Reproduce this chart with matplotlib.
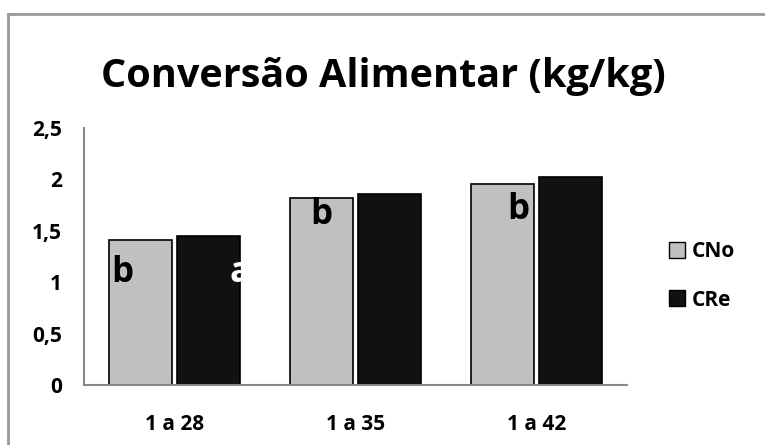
import numpy as np
import matplotlib.pyplot as plt
from matplotlib.lines import Line2D
from matplotlib.patches import Patch

categories = ["1 a 28", "1 a 35", "1 a 42"]
cno = [1.41, 1.82, 1.96]
cre = [1.45, 1.86, 2.02]
cno_letters = ["b", "b", "b"]
cre_letters = ["a", "", ""]
yticks = [0, 0.5, 1, 1.5, 2, 2.5]
ytick_labels = ["0", "0,5", "1", "1,5", "2", "2,5"]

plt.rcParams["font.family"] = ["Open Sans", "DejaVu Sans"]
plt.rcParams["font.weight"] = "bold"

W, H = 765, 445
fig = plt.figure(figsize=(W / 100, H / 100), dpi=100, facecolor="white")

# outer frame (only left and top visible in the source)
fig.add_artist(Line2D([8 / W, 8 / W], [0, 1 - 14 / H], transform=fig.transFigure,
                      color="#999999", lw=2))
fig.add_artist(Line2D([8 / W, 1], [1 - 14 / H, 1 - 14 / H], transform=fig.transFigure,
                      color="#999999", lw=2))

ax = fig.add_axes([84 / W, 1 - 385 / H, (627 - 84) / W, (385 - 128) / H])

x = np.arange(len(categories))
w = 0.35
gap = 0.012
bars_no = ax.bar(x - w / 2 - gap, cno, w, color="#c0c0c0", edgecolor="black", linewidth=1.2)
bars_re = ax.bar(x + w / 2 + gap, cre, w, color="#111111", edgecolor="black", linewidth=1.2)

ax.set_xlim(-0.5, len(categories) - 0.5)
ax.set_ylim(0, 2.5)
ax.set_yticks(yticks)
ax.set_yticklabels(ytick_labels, fontsize=15, fontweight="bold")
ax.set_xticks(x)
ax.set_xticklabels(categories, fontsize=15, fontweight="bold")
ax.tick_params(axis="y", length=0, pad=16)
ax.tick_params(axis="x", length=0, pad=21)
for s in ["top", "right"]:
    ax.spines[s].set_visible(False)
for s in ["left", "bottom"]:
    ax.spines[s].set_color("#888888")
    ax.spines[s].set_linewidth(1.5)

# letter positions (offsets within groups, in data units)
no_pos = [(-0.35, 1.09), (-0.25, 1.65), (-0.16, 1.70)]
for (dx, y), lab, xi in zip(no_pos, cno_letters, x):
    ax.text(xi + dx, y, lab, fontsize=25, fontweight="bold", ha="left", va="center", color="black")
t = ax.text(x[0] + 0.305, 1.09, cre_letters[0], fontsize=25, fontweight="bold",
            ha="left", va="center", color="white")
t.set_clip_path(bars_re[0])

fig.text(383 / W, 1 - 76 / H, "Conversão Alimentar (kg/kg)", fontsize=28.5,
         fontweight="bold", ha="center", va="center")

handles = [Patch(facecolor="#c0c0c0", edgecolor="black"),
           Patch(facecolor="#111111", edgecolor="black")]
fig.legend(handles, ["CNo", "CRe"], loc="center left", bbox_to_anchor=(650 / W, 1 - 276 / H),
           frameon=False, prop={"size": 15, "weight": "bold"}, handlelength=0.8,
           handleheight=0.8, handletextpad=0.3, labelspacing=1.3)

fig.savefig("out.png", dpi=100, facecolor="white")
